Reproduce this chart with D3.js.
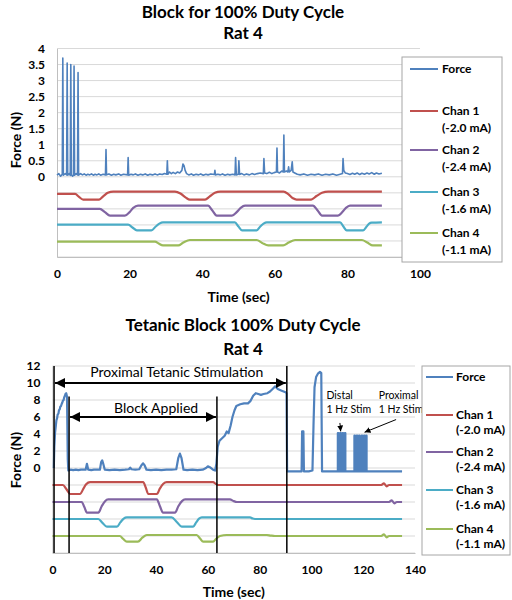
<!DOCTYPE html>
<html><head><meta charset="utf-8">
<script src="https://cdn.jsdelivr.net/npm/d3@7"></script>
<style>
body{margin:0;background:#fff;}
svg{display:block;font-family:Lato,"Liberation Sans",sans-serif;}
</style></head><body>
<svg id="c" width="512" height="600"></svg>
<script>
// ---------- DATA ----------
const seriesNames = ["Force","Chan 1","Chan 2","Chan 3","Chan 4"];
const seriesSub = ["","(-2.0 mA)","(-2.4 mA)","(-1.6 mA)","(-1.1 mA)"];
const seriesColors = ["#4F81BD","#C0504D","#8064A2","#4BACC6","#9BBB59"];

// Chart 1: Block for 100% Duty Cycle
const topTitle = ["Block for 100% Duty Cycle","Rat 4"];
const topXTicks = [0,20,40,60,80,100];
const topYTicks = [0,0.5,1,1.5,2,2.5,3,3.5,4];
const topForce = [[0,0.05],[0.5,0.1],[1.0,0.02],[1.45,0.08],[1.6,3.7],[1.75,0.05],[2.3,0.1],[2.65,0.06],[2.8,3.55],[2.95,0.05],[3.4,0.1],[3.65,0.04],[3.8,3.5],[3.95,0.06],[4.3,0.02],[4.55,0.05],[4.7,3.45],[4.85,0.05],[5.3,0.1],[5.65,0.06],[5.8,3.25],[5.95,0.05],[6.5,0.1],[7,0.06],[7.5,0.09],[8,0.05],[8.5,0.08],[9,0.06],[9.5,0.09],[10,0.05],[10.5,0.08],[11,0.06],[11.5,0.09],[12,0.05],[12.7,0.08],[13.35,0.06],[13.5,0.85],[13.65,0.06],[14.3,0.09],[15,0.05],[15.6,0.08],[16.2,0.06],[17,0.09],[17.6,0.05],[18.3,0.08],[19.45,0.06],[19.6,0.6],[19.75,0.05],[20.4,0.08],[21,0.06],[21.6,0.09],[22.3,0.05],[23,0.08],[23.6,0.06],[24.3,0.09],[25,0.05],[25.6,0.08],[26.3,0.06],[27,0.09],[27.6,0.06],[28.3,0.09],[29,0.07],[29.6,0.1],[30.25,0.08],[30.4,0.5],[30.55,0.08],[31,0.15],[31.5,0.1],[32,0.14],[32.6,0.1],[33.2,0.15],[33.8,0.12],[34.4,0.2],[34.7,0.4],[35,0.35],[35.3,0.2],[35.7,0.1],[36.3,0.06],[37,0.09],[37.6,0.05],[38.3,0.08],[39,0.06],[39.6,0.09],[40.3,0.05],[41,0.08],[41.6,0.06],[42.4,0.09],[43.35,0.07],[43.5,0.2],[43.65,0.06],[44.3,0.08],[45,0.06],[45.6,0.09],[46.3,0.05],[47,0.08],[47.6,0.06],[48.4,0.08],[49.05,0.06],[49.2,0.6],[49.4,0.06],[49.95,0.08],[50.1,0.5],[50.3,0.07],[50.9,0.1],[51.5,0.06],[52.2,0.09],[53,0.06],[53.7,0.1],[54.4,0.07],[55.2,0.1],[56,0.12],[56.85,0.1],[57,0.57],[57.2,0.12],[57.8,0.1],[58.5,0.14],[59.2,0.1],[59.8,0.13],[60.45,0.15],[60.6,0.9],[60.75,0.15],[61.3,0.12],[61.9,0.18],[62.35,0.15],[62.5,1.3],[62.65,0.15],[63.2,0.18],[63.6,0.15],[63.8,0.31],[64.0,0.15],[64.5,0.2],[64.8,0.47],[65.0,0.15],[65.5,0.12],[66.2,0.08],[67,0.06],[68,0.09],[69,0.05],[70,0.08],[71,0.06],[72,0.09],[73,0.05],[74,0.08],[75,0.06],[76,0.09],[77,0.05],[78,0.08],[78.65,0.1],[78.8,0.57],[79.0,0.2],[79.4,0.12],[80,0.1],[80.7,0.07],[81.4,0.11],[82,0.08],[82.7,0.12],[83.4,0.07],[84,0.11],[84.7,0.08],[85.4,0.12],[86,0.09],[86.7,0.13],[87.4,0.08],[88,0.12],[88.7,0.09],[89.5,0.11]];
const topChan1 = [[0,-0.53],[5,-0.53],[6,-0.62],[7.2,-0.71],[11.6,-0.71],[12.8,-0.6],[14,-0.5],[15.5,-0.46],[32.5,-0.46],[34,-0.52],[35.5,-0.65],[36.6,-0.71],[40.8,-0.71],[42,-0.62],[43.5,-0.5],[45,-0.46],[62.4,-0.46],[63.8,-0.55],[65,-0.67],[66,-0.71],[70,-0.71],[71.5,-0.6],[73,-0.5],[74.7,-0.46],[89.5,-0.46]];
const topChan2 = [[0,-1.0],[11.8,-1.0],[13.2,-1.1],[14.6,-1.21],[18.7,-1.21],[20,-1.1],[21,-0.97],[22.3,-0.9],[41.6,-0.9],[42.8,-1.05],[44,-1.21],[48.2,-1.21],[49.5,-1.1],[50.6,-0.97],[51.8,-0.9],[70.5,-0.9],[71.8,-1.05],[73,-1.21],[77.4,-1.21],[78.6,-1.1],[79.6,-0.97],[80.7,-0.9],[89.5,-0.9]];
const topChan3 = [[0,-1.49],[19.6,-1.49],[20.8,-1.58],[22,-1.67],[26,-1.67],[27.2,-1.55],[28.2,-1.46],[29.2,-1.42],[49,-1.42],[50,-1.55],[51,-1.67],[55,-1.67],[56,-1.55],[56.9,-1.46],[57.8,-1.42],[78,-1.42],[78.9,-1.55],[79.8,-1.67],[84.3,-1.67],[85.3,-1.55],[86,-1.46],[86.7,-1.43],[89.5,-1.42]];
const topChan4 = [[0,-2.02],[27,-2.02],[28,-2.08],[29.2,-2.14],[33.4,-2.14],[34.8,-2.05],[36.6,-1.97],[55,-1.97],[56.5,-2.06],[58.2,-2.14],[62.3,-2.14],[63.8,-2.05],[65.6,-1.97],[84,-1.97],[85.5,-2.05],[87,-2.14],[89.5,-2.14]];

// Chart 2: Tetanic Block 100% Duty Cycle
const botTitle = ["Tetanic Block 100% Duty Cycle","Rat 4"];
const botXTicks = [0,20,40,60,80,100,120,140];
const botYTicks = [0,2,4,6,8,10,12];
const botForce = [[0.5,0],[0.7,2.5],[1.0,4.2],[1.3,5.0],[1.5,5.6],[1.8,5.9],[2.0,6.3],[2.3,6.4],[2.5,6.8],[2.8,6.9],[3.0,7.2],[3.3,7.3],[3.5,7.5],[3.8,7.7],[4.0,7.9],[4.3,8.0],[4.5,8.3],[4.8,8.5],[5.0,8.7],[5.3,8.8],[5.6,8.4],[5.9,1],[6.1,-0.3],[7,-0.2],[8,-0.25],[9,-0.2],[10,-0.25],[11,-0.2],[12,-0.2],[12.8,-0.2],[13.3,0.5],[13.8,-0.2],[15,-0.25],[16,-0.2],[17,-0.2],[18.3,-0.2],[18.8,0.7],[19.2,0.9],[19.6,0.5],[20.2,-0.2],[22,-0.25],[24,-0.2],[26,-0.25],[28,-0.2],[29.5,-0.15],[30,0.05],[30.5,-0.15],[32,-0.2],[33.5,-0.15],[34.3,0.3],[35,0.55],[35.6,0.3],[36.3,-0.2],[38,-0.25],[40,-0.2],[42,-0.25],[44,-0.2],[46,-0.2],[47.8,-0.15],[48.6,1.2],[49.2,1.7],[49.8,1.2],[50.6,-0.2],[52,-0.25],[54,-0.2],[56,-0.25],[58,-0.2],[59.3,0],[60,0.2],[61,0.05],[62,-0.2],[62.8,-0.3],[63.3,0.5],[63.8,2.5],[64.5,3.2],[65.5,3.5],[66.5,3.8],[67.3,4.3],[68,4.1],[68.8,5.0],[69.5,6.0],[70.3,6.8],[71,7.3],[72.5,7.5],[74,7.6],[75.5,7.6],[76.5,7.9],[77.5,8.5],[78.5,8.8],[79.5,8.7],[80.5,8.6],[81.5,8.7],[83,8.8],[84,9.0],[85,9.3],[86,9.6],[87,9.3],[88.5,9.1],[90,8.9],[90.4,8.8],[90.6,-0.4],[92,-0.4],[94,-0.4],[96.2,-0.4],[96.4,4.3],[96.9,4.3],[97.1,-0.4],[99,-0.4],[100.4,-0.3],[100.8,5],[101.2,9.5],[101.8,10.7],[102.5,11.1],[103.3,11.3],[103.8,11.2],[104.1,-0.4],[106,-0.4],[108,-0.4],[110.2,-0.4],[110.2,4.1],[110.4,4.1],[110.4,-0.4],[111.1,-0.4],[111.1,4.1],[111.3,4.1],[111.3,-0.4],[112.0,-0.4],[112.0,4.1],[112.2,4.1],[112.2,-0.4],[112.9,-0.4],[112.9,4.1],[113.1,4.1],[113.1,-0.4],[114,-0.4],[116.6,-0.4],[116.6,3.8],[116.8,3.8],[116.8,-0.4],[117.5,-0.4],[117.5,3.8],[117.7,3.8],[117.7,-0.4],[118.4,-0.4],[118.4,3.8],[118.6,3.8],[118.6,-0.4],[119.4,-0.4],[119.4,3.8],[119.6,3.8],[119.6,-0.4],[120.3,-0.4],[120.3,3.8],[120.5,3.8],[120.5,-0.4],[121.1,-0.4],[121.1,3.8],[121.3,3.8],[121.3,-0.4],[123,-0.4],[126,-0.4],[130,-0.4],[135,-0.4]];
const botChan1 = [[0,-2],[4,-2],[5.4,-2.5],[6.8,-3.06],[10.6,-3.06],[12,-2.4],[13,-1.9],[14.5,-1.65],[35,-1.65],[36,-2.3],[37,-3.06],[40.3,-3.06],[41.5,-2.4],[42.8,-1.85],[44.1,-1.65],[62,-1.65],[63,-1.85],[64,-2],[127,-2],[128,-1.8],[129,-2.15],[130,-2],[135,-2]];
const botChan2 = [[0,-4],[11.3,-4],[12.3,-4.6],[13.3,-5.26],[17.7,-5.26],[19,-4.5],[20.3,-3.9],[21.5,-3.7],[40.3,-3.7],[41.5,-4.5],[42.7,-5.26],[47.3,-5.26],[48.6,-4.5],[50,-3.9],[51.2,-3.7],[68.5,-3.7],[70,-3.9],[71.2,-4],[130,-4],[131,-3.8],[132,-4.15],[133,-4],[135,-4]];
const botChan3 = [[0,-6],[17.7,-6],[19.3,-6.45],[21,-6.9],[24.9,-6.9],[26.2,-6.4],[27.5,-5.95],[28.7,-5.8],[46,-5.8],[48,-6.35],[49.9,-6.9],[54.3,-6.9],[55.5,-6.4],[56.6,-5.95],[57.7,-5.8],[76.3,-5.8],[77.3,-5.95],[78.2,-6],[135,-6]];
const botChan4 = [[0,-8],[26,-8],[27.3,-8.35],[28.7,-8.67],[33,-8.67],[34.7,-8.2],[36.4,-7.88],[55.7,-7.88],[57,-8.3],[58.2,-8.67],[62,-8.67],[63.3,-8.3],[64.7,-8.0],[67.3,-7.88],[82.8,-7.88],[84.3,-7.95],[85.9,-8],[127,-8],[128,-7.8],[129,-8.15],[130,-8],[135,-8]];

// annotations (chart 2), in data units
const markerTimes = [0.6, 6.4, 63.5, 90.5];
const markerTops = [12, 8.4, 8.4, 12];
const spanArrows = [{from:0.6,to:90.5,y:10,label:"Proximal Tetanic Stimulation",lx:48,ly:11.3},
                    {from:6.4,to:63.5,y:6,label:"Block Applied",lx:40,ly:7.1}];
const stimNotes = [{x:105.8,y:8.6,lines:["Distal","1 Hz Stim"],ax1:111.0,ay1:5.3,ax2:111.3,ay2:4.3},
                   {x:126.0,y:8.6,lines:["Proximal","1 Hz Stim"],ax1:132.7,ay1:5.7,ax2:120.5,ay2:4.2}];

// ---------- DRAW ----------
const svg = d3.select("#c");
const defs = svg.append("defs");
defs.append("marker").attr("id","ah").attr("viewBox","0 0 10 10").attr("refX",10).attr("refY",5)
  .attr("markerWidth",5).attr("markerHeight",5).attr("orient","auto-start-reverse")
  .append("path").attr("d","M0,0L10,5L0,10z").attr("fill","#000");
defs.append("marker").attr("id","ahs").attr("viewBox","0 0 10 10").attr("refX",10).attr("refY",5)
  .attr("markerWidth",6).attr("markerHeight",6).attr("orient","auto")
  .append("path").attr("d","M0,0L10,5L0,10z").attr("fill","#000");

function drawChart(o){
  const g = svg.append("g");
  const x = d3.scaleLinear().domain(o.xDomain).range(o.xRange);
  const y = d3.scaleLinear().domain(o.yDomain).range(o.yRange);
  o.title.forEach((t,i)=>g.append("text").attr("x",o.titleX).attr("y",o.titleY[i])
     .attr("text-anchor","middle").attr("font-weight","bold").attr("font-size",o.titleSize).attr("fill","#000").text(t));
  const grid = d3.range(o.yDomain[0], o.yDomain[1]+1e-9, o.gridStep);
  g.append("g").selectAll("line").data(grid).join("line")
    .attr("x1",o.xRange[0]).attr("x2",o.xRange[1]).attr("y1",d=>y(d)).attr("y2",d=>y(d))
    .attr("stroke","#d9d9d9").attr("stroke-width",1);
  const ya = g.append("g").attr("transform",`translate(${o.xRange[0]},0)`)
    .call(d3.axisLeft(y).tickValues(o.yTicks).tickSize(0).tickPadding(o.yPad).tickFormat(d3.format("~g")));
  ya.select(".domain").attr("stroke","#bfbfbf");
  ya.selectAll("text").attr("font-size",12).attr("font-weight","bold").attr("font-family","Lato").attr("fill","#000");
  const xa = g.append("g").attr("transform",`translate(0,${o.yRange[0]})`)
    .call(d3.axisBottom(x).tickValues(o.xTicks).tickSize(0).tickPadding(12).tickFormat(d3.format("d")));
  xa.select(".domain").attr("stroke","#bfbfbf");
  xa.selectAll("text").attr("font-size",12).attr("font-weight","bold").attr("font-family","Lato").attr("fill","#000");
  g.append("text").attr("x",(o.xRange[0]+o.xRange[1])/2).attr("y",o.xTitleY).attr("text-anchor","middle")
    .attr("font-weight","bold").attr("font-size",14).text("Time (sec)");
  g.append("text").attr("transform",`translate(${o.yTitleX},${o.yTitleY}) rotate(-90)`).attr("text-anchor","middle")
    .attr("font-weight","bold").attr("font-size",14).text("Force (N)");
  const line = d3.line().x(d=>x(d[0])).y(d=>y(d[1]));
  const smooth = d3.line().x(d=>x(d[0])).y(d=>y(d[1])).curve(d3.curveMonotoneX);
  o.chans.forEach((c,i)=>g.append("path").attr("d",smooth(c)).attr("fill","none")
     .attr("stroke",seriesColors[i+1]).attr("stroke-width",o.chanW).attr("stroke-linejoin","round"));
  g.append("path").attr("d",line(o.force)).attr("fill","none").attr("stroke",seriesColors[0])
    .attr("stroke-width",o.forceW).attr("stroke-linejoin","round");
  if(o.annot){
    markerTimes.forEach((t,i)=>g.append("line").attr("x1",x(t)).attr("x2",x(t))
      .attr("y1",y(markerTops[i])).attr("y2",o.yRange[0]).attr("stroke","#000").attr("stroke-width",1.5));
    spanArrows.forEach(a=>{
      g.append("line").attr("x1",x(a.from)+1).attr("x2",x(a.to)-1).attr("y1",y(a.y)).attr("y2",y(a.y))
        .attr("stroke","#000").attr("stroke-width",2)
        .attr("marker-start","url(#ah)").attr("marker-end","url(#ah)");
      g.append("text").attr("x",x(a.lx)).attr("y",y(a.ly)).attr("dy","0.35em")
        .attr("text-anchor","middle").attr("font-size",14).attr("fill","#000").text(a.label);
    });
    stimNotes.forEach(n=>{
      n.lines.forEach((l,i)=>g.append("text").attr("x",x(n.x)).attr("y",y(n.y)+i*14).attr("dy","0.35em")
        .attr("font-size",10.5).attr("fill","#000").text(l));
      g.append("line").attr("x1",x(n.ax1)).attr("y1",y(n.ay1)).attr("x2",x(n.ax2)).attr("y2",y(n.ay2))
        .attr("stroke","#000").attr("stroke-width",1).attr("marker-end","url(#ahs)");
    });
  }
  const L = o.legend;
  const lg = g.append("g");
  lg.append("rect").attr("x",L.x).attr("y",L.y).attr("width",L.w).attr("height",L.h)
    .attr("fill","#fff").attr("stroke","#a6a6a6").attr("stroke-width",1);
  seriesNames.forEach((nm,i)=>{
    const yy = L.rows[i];
    lg.append("line").attr("x1",L.lx1).attr("x2",L.lx2).attr("y1",yy).attr("y2",yy)
      .attr("stroke",seriesColors[i]).attr("stroke-width",2);
    lg.append("text").attr("x",L.tx).attr("y",yy).attr("dy","0.35em").attr("font-size",12)
      .attr("font-weight","bold").text(nm);
    if(seriesSub[i]) lg.append("text").attr("x",L.tx).attr("y",yy+L.sub).attr("dy","0.35em")
      .attr("font-size",12).attr("font-weight","bold").text(seriesSub[i]);
  });
}

drawChart({title:topTitle,titleX:243,titleY:[18,39],titleSize:17,
  xDomain:[0,100],xRange:[57,420],yDomain:[-2.5,4],yRange:[257,48.5],gridStep:0.5,
  xTicks:topXTicks,yTicks:topYTicks,yPad:12,xTitleY:302,yTitleX:21,yTitleY:140,
  force:topForce,chans:[topChan1,topChan2,topChan3,topChan4],forceW:1.6,chanW:2.2,annot:false,
  legend:{x:402,y:57,w:100,h:205,lx1:410,lx2:438,tx:442,rows:[69,111,150,192,233],sub:17}});

drawChart({title:botTitle,titleX:243,titleY:[331,355],titleSize:17,
  xDomain:[0,140],xRange:[52.5,415],yDomain:[-10,12],yRange:[553,366],gridStep:2,
  xTicks:botXTicks,yTicks:botYTicks,yPad:12,xTitleY:597,yTitleX:21,yTitleY:460,
  force:botForce,chans:[botChan1,botChan2,botChan3,botChan4],forceW:2.2,chanW:2.2,annot:true,
  legend:{x:422,y:366,w:88,h:189,lx1:426,lx2:453,tx:456,rows:[377,415,452,490,529],sub:15}});
</script>
</body></html>
